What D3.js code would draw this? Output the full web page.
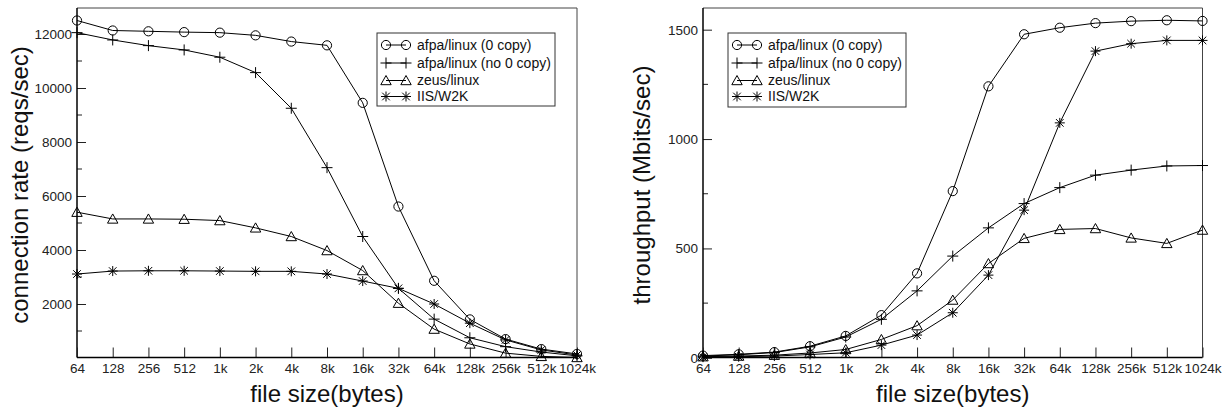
<!DOCTYPE html>
<html><head><meta charset="utf-8">
<script src="https://cdn.jsdelivr.net/npm/d3@7"></script>
<style>
body{margin:0;background:#fff;}
svg{display:block;font-family:"Liberation Sans",Arial,Helvetica,sans-serif;}
</style></head>
<body><svg id="c" width="1231" height="411"></svg>
<script>
const categories = ["64","128","256","512","1k","2k","4k","8k","16k","32k","64k","128k","256k","512k","1024k"];
const seriesNames = ["afpa/linux (0 copy)","afpa/linux (no 0 copy)","zeus/linux","IIS/W2K"];
const seriesMarkers = ["circle","plus","triangle","star"];

// connection rate (reqs/sec)
const rateAfpa0   = [12500,12130,12100,12070,12050,11950,11720,11580,9450,5610,2860,1430,700,330,150];
const rateAfpaNo  = [12050,11780,11570,11410,11140,10570,9250,7050,4500,2580,1440,750,420,220,80];
const rateZeus    = [5400,5150,5150,5140,5090,4820,4500,3980,3240,2030,1070,520,180,60,20];
const rateIIS     = [3110,3220,3230,3230,3220,3210,3210,3110,2850,2580,2000,1290,670,300,110];

// throughput (Mbits/sec)
const tputAfpa0   = [10,16,26,53,100,195,386,762,1241,1479,1509,1530,1539,1543,1540];
const tputAfpaNo  = [8,14,24,50,95,176,306,465,594,705,778,835,858,877,879];
const tputZeus    = [5,8,12,22,38,84,147,264,431,546,587,591,548,523,584];
const tputIIS     = [3,5,8,15,23,58,104,206,378,675,1074,1402,1436,1451,1451];

const rateMajorTicks = [2000,4000,6000,8000,10000,12000];
const rateMinorTicks = [1000,3000,5000,7000,9000,11000];
const tputMajorTicks = [0,500,1000,1500];
const tputMinorTicks = [250,750,1250];

const svg = d3.select("#c");

function markerPath(type){
  if(type==="circle"){ const r=4.6; return `M${-r},0A${r},${r} 0 1,0 ${r},0A${r},${r} 0 1,0 ${-r},0Z`; }
  if(type==="plus"){ const h=5.5; return `M${-h},0H${h}M0,${-h}V${h}`; }
  if(type==="triangle"){ return "M-5.2,4.2L0,-5L5.2,4.2Z"; }
  if(type==="star"){ const h=5, d=3.8; return `M${-h},0H${h}M0,${-h}V${h}M${-d},${-d}L${d},${d}M${-d},${d}L${d},${-d}`; }
}

function drawChart(cfg){
  const g = svg.append("g");
  const x = d3.scalePoint().domain(categories).range([cfg.x0, cfg.x1]);
  const y = d3.scaleLinear().domain(cfg.ydomain).range([cfg.yBottom, cfg.yTopVal]);

  // frame (top/right)
  g.append("path")
    .attr("d", `M${cfg.x0},${cfg.top}H${cfg.x1}V${cfg.bottom}`)
    .attr("fill","none").attr("stroke","#444").attr("stroke-width",1);

  // y axis
  const ya = d3.axisLeft(y).tickValues(cfg.major).tickSize(-9).tickSizeOuter(0).tickPadding(5)
      .tickFormat(d3.format("d"));
  const yg = g.append("g").attr("transform",`translate(${cfg.x0},0)`).call(ya);
  yg.select(".domain").remove();
  yg.selectAll("text").attr("font-size","13.5px").attr("fill","#222").attr("font-family",null);
  yg.selectAll("line").attr("stroke","#222");
  g.append("g").selectAll("line").data(cfg.minor).join("line")
    .attr("x1",cfg.x0).attr("x2",cfg.x0+5).attr("y1",d=>y(d)).attr("y2",d=>y(d))
    .attr("stroke","#222");
  g.append("line").attr("x1",cfg.x0).attr("x2",cfg.x0).attr("y1",cfg.top).attr("y2",cfg.bottom)
    .attr("stroke","#000").attr("stroke-width",1.5);

  // x axis
  const xa = d3.axisBottom(x).tickSize(-10).tickSizeOuter(0).tickPadding(6);
  const xg = g.append("g").attr("transform",`translate(0,${cfg.bottom})`).call(xa);
  xg.select(".domain").remove();
  xg.selectAll("text").attr("font-size","13.5px").attr("fill","#222").attr("font-family",null);
  xg.selectAll("line").attr("stroke","#222");
  g.append("line").attr("x1",cfg.x0).attr("x2",cfg.x1).attr("y1",cfg.bottom).attr("y2",cfg.bottom)
    .attr("stroke","#000").attr("stroke-width",1.5);

  // series
  const line = d3.line().x((d,i)=>x(categories[i])).y(d=>y(d));
  cfg.series.forEach((vals,si)=>{
    g.append("path").datum(vals).attr("d",line).attr("fill","none").attr("stroke","#000").attr("stroke-width",1);
    g.append("g").selectAll("path").data(vals).join("path")
      .attr("transform",(d,i)=>`translate(${x(categories[i])},${y(d)})`)
      .attr("d",markerPath(seriesMarkers[si]))
      .attr("fill","none").attr("stroke","#000").attr("stroke-width",1);
  });

  // legend
  const L = cfg.legend;
  g.append("rect").attr("x",L.x).attr("y",L.y).attr("width",L.w).attr("height",L.h)
    .attr("fill","#fff").attr("stroke","#333").attr("stroke-width",1);
  seriesNames.forEach((name,i)=>{
    const ry = L.rows[i];
    const mx1 = L.x+9, mx2 = L.x+29;
    g.append("line").attr("x1",mx1).attr("x2",mx2).attr("y1",ry).attr("y2",ry).attr("stroke","#000");
    [mx1,mx2].forEach(mx=>{
      g.append("path").attr("transform",`translate(${mx},${ry})`).attr("d",markerPath(seriesMarkers[i]))
        .attr("fill","none").attr("stroke","#000");
    });
    g.append("text").attr("x",L.x+40).attr("y",ry).attr("dy","0.35em")
      .attr("font-size","14px").attr("fill","#111").text(name);
  });

  // titles
  g.append("text").attr("x",(cfg.x0+cfg.x1)/2).attr("y",402).attr("text-anchor","middle")
    .attr("font-size","24px").attr("fill","#111").text("file size(bytes)");
  g.append("text").attr("transform",`translate(${cfg.ytitleX},185) rotate(-90)`).attr("text-anchor","middle")
    .attr("font-size","24px").attr("fill","#111").text(cfg.ytitle);
}

drawChart({
  x0:77, x1:577, top:8, bottom:357.5, yBottom:358, yTopVal:7, ydomain:[0,13000],
  major:rateMajorTicks, minor:rateMinorTicks,
  series:[rateAfpa0,rateAfpaNo,rateZeus,rateIIS],
  legend:{x:377,y:33,w:178,h:73,rows:[45,63,80.5,96.5]},
  ytitle:"connection rate (reqs/sec)", ytitleX:27.5
});
drawChart({
  x0:703, x1:1202.5, top:8, bottom:357.5, yBottom:357.8, yTopVal:7.8, ydomain:[0,1600],
  major:tputMajorTicks, minor:tputMinorTicks,
  series:[tputAfpa0,tputAfpaNo,tputZeus,tputIIS],
  legend:{x:728,y:33,w:178,h:74,rows:[45,63,80.5,96.5]},
  ytitle:"throughput (Mbits/sec)", ytitleX:650
});
</script></body></html>
